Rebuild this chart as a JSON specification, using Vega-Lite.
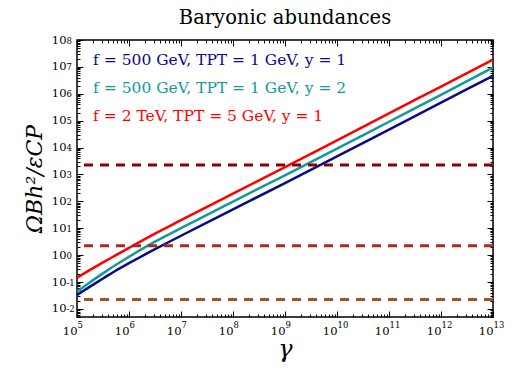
{
  "$schema": "https://vega.github.io/schema/vega-lite/v6.json",
  "width": 416,
  "height": 277,
  "autosize": {"type": "none"},
  "padding": {"left": 77, "top": 40, "right": 30, "bottom": 61},
  "title": {"text": "Baryonic abundances", "font": "DejaVu Serif", "fontSize": 19.5, "fontWeight": "normal", "color": "black", "offset": 6, "anchor": "middle", "frame": "group"},
  "config": {
    "view": {"stroke": "black", "strokeWidth": 1.5},
    "axis": {"labelFont": "DejaVu Serif", "labelFontSize": 11.5, "labelColor": "black", "labelOverlap": false, "labelFlush": false, "tickColor": "black", "tickWidth": 1, "domain": false, "grid": false, "titleFont": "DejaVu Serif", "titleFontWeight": "normal", "titleColor": "black"}
  },
  "data": {"values": [
    {"gamma": 100000, "omega": 0.0331, "series": "f = 500 GeV, TPT = 1 GeV, y = 1"},
    {"gamma": 177828, "omega": 0.0676, "series": "f = 500 GeV, TPT = 1 GeV, y = 1"},
    {"gamma": 316228, "omega": 0.135, "series": "f = 500 GeV, TPT = 1 GeV, y = 1"},
    {"gamma": 562341, "omega": 0.269, "series": "f = 500 GeV, TPT = 1 GeV, y = 1"},
    {"gamma": 1000000, "omega": 0.501, "series": "f = 500 GeV, TPT = 1 GeV, y = 1"},
    {"gamma": 3162278, "omega": 1.66, "series": "f = 500 GeV, TPT = 1 GeV, y = 1"},
    {"gamma": 10000000, "omega": 5.25, "series": "f = 500 GeV, TPT = 1 GeV, y = 1"},
    {"gamma": 100000000, "omega": 50.1, "series": "f = 500 GeV, TPT = 1 GeV, y = 1"},
    {"gamma": 1000000000, "omega": 479, "series": "f = 500 GeV, TPT = 1 GeV, y = 1"},
    {"gamma": 10000000000, "omega": 4677, "series": "f = 500 GeV, TPT = 1 GeV, y = 1"},
    {"gamma": 100000000000, "omega": 46770, "series": "f = 500 GeV, TPT = 1 GeV, y = 1"},
    {"gamma": 1000000000000, "omega": 467700, "series": "f = 500 GeV, TPT = 1 GeV, y = 1"},
    {"gamma": 10000000000000, "omega": 4677000, "series": "f = 500 GeV, TPT = 1 GeV, y = 1"},
    {"gamma": 100000, "omega": 0.0437, "series": "f = 500 GeV, TPT = 1 GeV, y = 2"},
    {"gamma": 177828, "omega": 0.0977, "series": "f = 500 GeV, TPT = 1 GeV, y = 2"},
    {"gamma": 316228, "omega": 0.209, "series": "f = 500 GeV, TPT = 1 GeV, y = 2"},
    {"gamma": 562341, "omega": 0.4365, "series": "f = 500 GeV, TPT = 1 GeV, y = 2"},
    {"gamma": 1000000, "omega": 0.871, "series": "f = 500 GeV, TPT = 1 GeV, y = 2"},
    {"gamma": 3162278, "omega": 3.162, "series": "f = 500 GeV, TPT = 1 GeV, y = 2"},
    {"gamma": 10000000, "omega": 10, "series": "f = 500 GeV, TPT = 1 GeV, y = 2"},
    {"gamma": 100000000, "omega": 97.7, "series": "f = 500 GeV, TPT = 1 GeV, y = 2"},
    {"gamma": 1000000000, "omega": 933, "series": "f = 500 GeV, TPT = 1 GeV, y = 2"},
    {"gamma": 10000000000, "omega": 9120, "series": "f = 500 GeV, TPT = 1 GeV, y = 2"},
    {"gamma": 100000000000, "omega": 91200, "series": "f = 500 GeV, TPT = 1 GeV, y = 2"},
    {"gamma": 1000000000000, "omega": 912000, "series": "f = 500 GeV, TPT = 1 GeV, y = 2"},
    {"gamma": 10000000000000, "omega": 9500000, "series": "f = 500 GeV, TPT = 1 GeV, y = 2"},
    {"gamma": 100000, "omega": 0.1445, "series": "f = 2 TeV, TPT = 5 GeV, y = 1"},
    {"gamma": 177828, "omega": 0.2818, "series": "f = 2 TeV, TPT = 5 GeV, y = 1"},
    {"gamma": 316228, "omega": 0.537, "series": "f = 2 TeV, TPT = 5 GeV, y = 1"},
    {"gamma": 562341, "omega": 1.0, "series": "f = 2 TeV, TPT = 5 GeV, y = 1"},
    {"gamma": 1000000, "omega": 1.862, "series": "f = 2 TeV, TPT = 5 GeV, y = 1"},
    {"gamma": 3162278, "omega": 6.31, "series": "f = 2 TeV, TPT = 5 GeV, y = 1"},
    {"gamma": 10000000, "omega": 19.95, "series": "f = 2 TeV, TPT = 5 GeV, y = 1"},
    {"gamma": 100000000, "omega": 195, "series": "f = 2 TeV, TPT = 5 GeV, y = 1"},
    {"gamma": 1000000000, "omega": 1862, "series": "f = 2 TeV, TPT = 5 GeV, y = 1"},
    {"gamma": 10000000000, "omega": 18620, "series": "f = 2 TeV, TPT = 5 GeV, y = 1"},
    {"gamma": 100000000000, "omega": 186200, "series": "f = 2 TeV, TPT = 5 GeV, y = 1"},
    {"gamma": 1000000000000, "omega": 1862000, "series": "f = 2 TeV, TPT = 5 GeV, y = 1"},
    {"gamma": 10000000000000, "omega": 18620000, "series": "f = 2 TeV, TPT = 5 GeV, y = 1"}
  ]},
  "layer": [
    {
      "mark": {"type": "line", "strokeWidth": 2.5, "interpolate": "monotone"},
      "encoding": {
        "x": {"field": "gamma", "type": "quantitative", "scale": {"type": "log", "domain": [100000, 10000000000000], "nice": false},
          "axis": {"orient": "bottom", "values": [100000, 1000000, 10000000, 100000000, 1000000000, 10000000000, 100000000000, 1000000000000, 10000000000000], "tickSize": -6, "labelPadding": 14, "labelAlign": "right", "labelDx": 4, "labelExpr": "'10'", "title": "γ", "titleFontSize": 24, "titleFontStyle": "italic", "titlePadding": 1}},
        "y": {"field": "omega", "type": "quantitative", "scale": {"type": "log", "domain": [0.005, 100000000], "nice": false},
          "axis": {"orient": "left", "values": [0.01, 0.1, 1, 10, 100, 1000, 10000, 100000, 1000000, 10000000, 100000000], "tickSize": -6, "labelPadding": 17, "labelDy": 1, "labelExpr": "'10'", "title": "ΩBh²/εCP", "titleFontSize": 22, "titleFontStyle": "italic", "titlePadding": 5}},
        "color": {"field": "series", "type": "nominal", "legend": null,
          "scale": {"domain": ["f = 500 GeV, TPT = 1 GeV, y = 1", "f = 500 GeV, TPT = 1 GeV, y = 2", "f = 2 TeV, TPT = 5 GeV, y = 1", "lvl1", "lvl2", "lvl3"],
                    "range": ["#0a0a8a", "#139a96", "#ff0000", "#8b0000", "#a52a2a", "#a0522d"]}}
      }
    },
    {
      "data": {"values": [
        {"level": 2240, "series": "lvl1"},
        {"level": 2.24, "series": "lvl2"},
        {"level": 0.0224, "series": "lvl3"}
      ]},
      "mark": {"type": "rule", "strokeWidth": 3, "strokeDash": [9, 7]},
      "encoding": {
        "y": {"field": "level", "type": "quantitative", "axis": null},
        "color": {"field": "series", "type": "nominal", "legend": null}
      }
    },
    {
      "data": {"values": [
        {"gx": 204000, "gy": 18200000, "series": "f = 500 GeV, TPT = 1 GeV, y = 1"},
        {"gx": 204000, "gy": 1660000, "series": "f = 500 GeV, TPT = 1 GeV, y = 2"},
        {"gx": 204000, "gy": 155000, "series": "f = 2 TeV, TPT = 5 GeV, y = 1"}
      ]},
      "mark": {"type": "text", "align": "left", "baseline": "middle", "font": "DejaVu Serif", "fontSize": 15.5},
      "encoding": {
        "x": {"field": "gx", "type": "quantitative", "axis": null},
        "y": {"field": "gy", "type": "quantitative", "axis": null},
        "text": {"field": "series"},
        "color": {"field": "series", "type": "nominal", "legend": null}
      }
    },
    {
      "mark": {"type": "point", "opacity": 0, "size": 0},
      "encoding": {
        "x": {"field": "gamma", "type": "quantitative", "axis": {"orient": "bottom", "ticks": false, "title": null, "labelPadding": 3, "labelAlign": "left", "labelDx": 4, "labelFontSize": 8.5,
          "labelExpr": "'' + round(log(datum.value)/LN10)",
          "values": [100000, 1000000, 10000000, 100000000, 1000000000, 10000000000, 100000000000, 1000000000000, 10000000000000]}},
        "y": {"field": "omega", "type": "quantitative", "axis": {"orient": "left", "ticks": false, "title": null, "labelPadding": 11, "labelAlign": "left", "labelDy": -4, "labelFontSize": 8.5, "labelOverlap": false, "labelBound": false,
          "labelExpr": "(datum.value < 0.5 ? '-' : '') + abs(round(log(datum.value)/LN10))",
          "values": [0.01, 0.1, 1, 10, 100, 1000, 10000, 100000, 1000000, 10000000, 100000000]}}
      }
    },
    {
      "mark": {"type": "point", "opacity": 0, "size": 0},
      "encoding": {
        "x": {"field": "gamma", "type": "quantitative", "axis": {"orient": "bottom", "labels": false, "title": null, "tickSize": -3,
          "values": [200000,300000,400000,500000,600000,700000,800000,900000,2000000,3000000,4000000,5000000,6000000,7000000,8000000,9000000,20000000,30000000,40000000,50000000,60000000,70000000,80000000,90000000,200000000,300000000,400000000,500000000,600000000,700000000,800000000,900000000,2000000000,3000000000,4000000000,5000000000,6000000000,7000000000,8000000000,9000000000,20000000000,30000000000,40000000000,50000000000,60000000000,70000000000,80000000000,90000000000,200000000000,300000000000,400000000000,500000000000,600000000000,700000000000,800000000000,900000000000,2000000000000,3000000000000,4000000000000,5000000000000,6000000000000,7000000000000,8000000000000,9000000000000]}},
        "y": {"field": "omega", "type": "quantitative", "axis": {"orient": "left", "labels": false, "title": null, "tickSize": -3,
          "values": [0.005,0.006,0.007,0.008,0.009,0.02,0.03,0.04,0.05,0.06,0.07,0.08,0.09,0.2,0.3,0.4,0.5,0.6,0.7,0.8,0.9,2,3,4,5,6,7,8,9,20,30,40,50,60,70,80,90,200,300,400,500,600,700,800,900,2000,3000,4000,5000,6000,7000,8000,9000,20000,30000,40000,50000,60000,70000,80000,90000,200000,300000,400000,500000,600000,700000,800000,900000,2000000,3000000,4000000,5000000,6000000,7000000,8000000,9000000,20000000,30000000,40000000,50000000,60000000,70000000,80000000,90000000]}}
      }
    },
    {
      "mark": {"type": "point", "opacity": 0, "size": 0},
      "encoding": {
        "x": {"field": "gamma", "type": "quantitative", "axis": {"orient": "top", "labels": false, "title": null, "tickSize": -6,
          "values": [100000, 1000000, 10000000, 100000000, 1000000000, 10000000000, 100000000000, 1000000000000, 10000000000000]}},
        "y": {"field": "omega", "type": "quantitative", "axis": {"orient": "right", "labels": false, "title": null, "tickSize": -6,
          "values": [0.01, 0.1, 1, 10, 100, 1000, 10000, 100000, 1000000, 10000000, 100000000]}}
      }
    },
    {
      "mark": {"type": "point", "opacity": 0, "size": 0},
      "encoding": {
        "x": {"field": "gamma", "type": "quantitative", "axis": {"orient": "top", "labels": false, "title": null, "tickSize": -3,
          "values": [200000,300000,400000,500000,600000,700000,800000,900000,2000000,3000000,4000000,5000000,6000000,7000000,8000000,9000000,20000000,30000000,40000000,50000000,60000000,70000000,80000000,90000000,200000000,300000000,400000000,500000000,600000000,700000000,800000000,900000000,2000000000,3000000000,4000000000,5000000000,6000000000,7000000000,8000000000,9000000000,20000000000,30000000000,40000000000,50000000000,60000000000,70000000000,80000000000,90000000000,200000000000,300000000000,400000000000,500000000000,600000000000,700000000000,800000000000,900000000000,2000000000000,3000000000000,4000000000000,5000000000000,6000000000000,7000000000000,8000000000000,9000000000000]}},
        "y": {"field": "omega", "type": "quantitative", "axis": {"orient": "right", "labels": false, "title": null, "tickSize": -3,
          "values": [0.005,0.006,0.007,0.008,0.009,0.02,0.03,0.04,0.05,0.06,0.07,0.08,0.09,0.2,0.3,0.4,0.5,0.6,0.7,0.8,0.9,2,3,4,5,6,7,8,9,20,30,40,50,60,70,80,90,200,300,400,500,600,700,800,900,2000,3000,4000,5000,6000,7000,8000,9000,20000,30000,40000,50000,60000,70000,80000,90000,200000,300000,400000,500000,600000,700000,800000,900000,2000000,3000000,4000000,5000000,6000000,7000000,8000000,9000000,20000000,30000000,40000000,50000000,60000000,70000000,80000000,90000000]}}
      }
    }
  ],
  "resolve": {"axis": {"x": "independent", "y": "independent"}}
}
